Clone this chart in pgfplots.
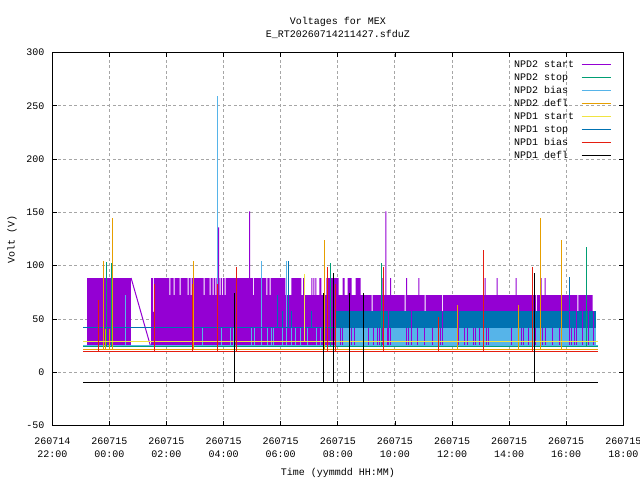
\documentclass[border=0pt]{standalone}
\usepackage{pgfplots}
\pgfplotsset{compat=1.18}
\usepackage{fontspec}
\setmainfont{Liberation Mono}
\definecolor{cPurple}{HTML}{9400D3}
\definecolor{cTeal}{HTML}{009E73}
\definecolor{cLBlue}{HTML}{56B4E9}
\definecolor{cOrange}{HTML}{E69F00}
\definecolor{cYellow}{HTML}{F0E442}
\definecolor{cDBlue}{HTML}{0072B2}
\definecolor{cRed}{HTML}{E51E10}
\newcommand{\gpfont}{\fontsize{10bp}{13bp}\selectfont}
\newcommand{\lsp}{\hspace*{7bp}}
\begin{document}
\begin{tikzpicture}
\useasboundingbox (0,0) rectangle (640bp,480bp);
\begin{axis}[
  at={(52.3bp,54.4bp)}, anchor=south west,
  scale only axis, width=571bp, height=373.2bp,
  xmin=-2, xmax=18, ymin=-50, ymax=300,
  xtick={-2,0,2,4,6,8,10,12,14,16,18},
  xticklabels={{260714\\22:00},{260715\\00:00},{260715\\02:00},{260715\\04:00},{260715\\06:00},{260715\\08:00},{260715\\10:00},{260715\\12:00},{260715\\14:00},{260715\\16:00},{260715\\18:00}},
  ytick={-50,0,50,100,150,200,250,300},
  yticklabels={-50,0,50,100,150,200,250,300},
  tick align=inside,
  major tick length=4.5bp,
  every tick/.style={black, line width=0.8bp},
  axis line style={line width=1bp},
  grid=major,
  major grid style={draw=gray!70, dash pattern=on 3bp off 2.5bp, line width=0.9bp},
  xticklabel style={font=\gpfont, align=center, anchor=center, yshift=-22.5bp},
  yticklabel style={font=\gpfont, xshift=-4.5bp},
  title={Voltages for MEX\\E\_RT20260714211427.sfduZ},
  title style={font=\gpfont, align=center, at={(axis description cs:0.5,1)}, anchor=south, yshift=4bp},
  xlabel={Time (yymmdd HH:MM)},
  xlabel style={font=\gpfont, at={(axis description cs:0.5,-0.127)}, anchor=center},
  ylabel={Volt (V)},
  ylabel style={font=\gpfont, at={(axis description cs:-0.0706,0.5)}, anchor=center},
  legend style={draw=none, fill=none, at={(axis description cs:0.8086,0.984)}, anchor=north west,
    inner sep=0pt, outer sep=0pt, row sep=0pt, font=\gpfont,
    nodes={inner xsep=0pt, inner ysep=1.5bp, text height=7.5bp, text depth=2.5bp}},
  legend plot pos=right,
  legend cell align=left,
  legend image code/.code={\draw[#1, line width=1bp] (0bp,0bp) -- (29bp,0bp);},
  unbounded coords=jump,
]
\addlegendimage{cPurple}\addlegendentry{NPD2 start\lsp}
\addlegendimage{cTeal}\addlegendentry{NPD2 stop\lsp}
\addlegendimage{cLBlue}\addlegendentry{NPD2 bias\lsp}
\addlegendimage{cOrange}\addlegendentry{NPD2 defl\lsp}
\addlegendimage{cYellow}\addlegendentry{NPD1 start\lsp}
\addlegendimage{cDBlue}\addlegendentry{NPD1 stop\lsp}
\addlegendimage{cRed}\addlegendentry{NPD1 bias\lsp}
\addlegendimage{black}\addlegendentry{NPD1 defl\lsp}

% NPD2 start (purple) blocks
\addplot[fill=cPurple, draw=none, forget plot] coordinates {(-0.782,25.7) (-0.782,88.4) (0.761,88.4) (0.761,25.7)} -- cycle;
\addplot[fill=cPurple, draw=none, forget plot] coordinates {
(1.463,25.7) (1.463,88.4)
(1.533,88.4) (1.533,56.7) (1.568,56.7) (1.568,88.4)
(2.105,88.4) (2.105,72.4) (2.140,72.4) (2.140,88.4)
(2.246,88.4) (2.246,72.4) (2.281,72.4) (2.281,88.4)
(2.456,88.4) (2.456,72.4) (2.491,72.4) (2.491,88.4)
(2.737,88.4) (2.737,72.4) (2.772,72.4) (2.772,88.4)
(2.842,88.4) (2.842,72.4) (2.877,72.4) (2.877,88.4)
(3.298,88.4) (3.298,72.4) (3.333,72.4) (3.333,88.4)
(3.509,88.4) (3.509,72.4) (3.544,72.4) (3.544,88.4)
(3.614,88.4) (3.614,72.4) (3.649,72.4) (3.649,88.4)
(3.709,88.4) (3.709,72.4) (3.744,72.4) (3.744,88.4)
(3.860,88.4) (3.860,72.4) (3.895,72.4) (3.895,88.4)
(3.944,88.4) (3.944,72.4) (3.979,72.4) (3.979,88.4)
(4.035,88.4) (4.035,72.4) (4.070,72.4) (4.070,88.4)
(5.032,88.4) (5.032,72.4) (5.067,72.4) (5.067,88.4)
(5.498,88.4) (5.498,72.4) (5.533,72.4) (5.533,88.4)
(5.614,88.4) (5.614,72.4) (5.649,72.4) (5.649,88.4)
(6.165,88.4) (6.165,72.4) (6.375,72.4) (6.375,88.4) (6.726,88.4) (6.726,72.4)
(7.358,72.4) (7.358,88.4) (7.428,88.4) (7.428,72.4)
(7.604,72.4) (7.604,88.4) (8.025,88.4) (8.025,72.4)
(8.165,72.4) (8.165,88.4) (8.235,88.4) (8.235,72.4)
(8.340,72.4) (8.340,88.4) (8.481,88.4) (8.481,72.4)
(8.621,72.4) (8.621,88.4) (8.796,88.4) (8.796,72.4)
(9.182,72.4) (9.182,57) (9.217,57) (9.217,72.4)
(10.340,72.4) (10.340,57) (10.375,57) (10.375,72.4)
(11.042,72.4) (11.042,57) (11.077,57) (11.077,72.4)
(11.649,72.4) (11.649,57) (11.684,57) (11.684,72.4)
(14.937,72.4) (14.937,57) (14.972,57) (14.972,72.4)
(16.393,72.4) (16.393,57) (16.428,57) (16.428,72.4)
(16.926,72.4) (16.926,25.7)} -- cycle;
\addplot[cPurple, line width=1bp, forget plot] coordinates {
(0.761,88.4) (1.428,25.7) (1.428,nan)
(6.807,72.4) (6.807,88.4) (6.807,nan)
(7.095,72.4) (7.095,88.4) (7.095,nan)
(7.165,72.4) (7.165,88.4) (7.165,nan)
(7.235,72.4) (7.235,88.4) (7.235,nan)
(9.579,72.4) (9.579,88.4) (9.579,nan)
(9.849,72.4) (9.849,88.4) (9.849,nan)
(10.41,72.4) (10.41,88.4) (10.41,nan)
(10.842,72.4) (10.842,88.4) (10.842,nan)
(13.158,72.4) (13.158,88.4) (13.158,nan)
(13.579,72.4) (13.579,88.4) (13.579,nan)
(14.246,72.4) (14.246,88.4) (14.246,nan)
(15.123,72.4) (15.123,88.4) (15.123,nan)
(15.263,72.4) (15.263,88.4) (15.263,nan)
(3.825,88.4) (3.825,135.8) (3.825,nan)
(4.912,88.4) (4.912,151) (4.912,nan)
(9.684,72.4) (9.684,151) (9.684,nan)};

% NPD2 bias (light blue) band and bars
\addplot[fill=cLBlue, draw=none, forget plot] coordinates {(7.919,25.4) (7.919,41.4) (17.042,41.4) (17.042,25.4)} -- cycle;
\addplot[cLBlue, line width=1bp, forget plot] coordinates {
(-0.912,25.4) (17.10,25.4) (17.10,nan)
(0.561,25.4) (0.561,72.4) (0.561,nan)
(3.263,25.4) (3.263,41.4) (3.263,nan)
(3.930,25.4) (3.930,41.4) (3.930,nan)
(4.246,25.4) (4.246,41.4) (4.246,nan)
(4.351,25.4) (4.351,41.4) (4.351,nan)
(4.972,25.4) (4.972,41.4) (4.972,nan)
(5.077,25.4) (5.077,41.4) (5.077,nan)
(5.533,25.4) (5.533,41.4) (5.533,nan)
(5.674,25.4) (5.674,41.4) (5.674,nan)
(5.744,25.4) (5.744,41.4) (5.744,nan)
(6.070,25.4) (6.070,41.4) (6.070,nan)
(6.375,25.4) (6.375,41.4) (6.375,nan)
(6.526,25.4) (6.526,41.4) (6.526,nan)
(6.691,25.4) (6.691,41.4) (6.691,nan)
(6.926,25.4) (6.926,41.4) (6.926,nan)
(7.242,25.4) (7.242,41.4) (7.242,nan)
(7.393,25.4) (7.393,41.4) (7.393,nan)
(3.789,25.4) (3.789,259) (3.789,nan)
(5.333,25.4) (5.333,104) (5.333,nan)
(6.211,25.4) (6.211,104) (6.211,nan)};

% NPD1 stop (dark blue) band and bars
\addplot[fill=cDBlue, draw=none, forget plot] coordinates {(7.919,41.4) (7.919,57.4) (17.042,57.4) (17.042,41.4)} -- cycle;
\addplot[cDBlue, line width=1bp, forget plot] coordinates {
(-0.912,42) (7.919,42) (7.919,nan)
(6.070,42) (6.070,57.4) (6.070,nan)
(6.375,42) (6.375,57.4) (6.375,nan)
(7.077,42) (7.077,57.4) (7.077,nan)
(5.895,42) (5.895,72.4) (5.895,nan)
(6.281,42) (6.281,104.7) (6.281,nan)
(16.105,57.4) (16.105,89) (16.105,nan)};

% purple showing through the bands
\addplot[cPurple, line width=1bp, forget plot] coordinates {
(8.095,25.7) (8.095,41.4) (8.095,nan)
(8.175,25.7) (8.175,41.4) (8.175,nan)
(8.481,25.7) (8.481,41.4) (8.481,nan)
(8.586,25.7) (8.586,41.4) (8.586,nan)
(9.067,25.7) (9.067,41.4) (9.067,nan)
(9.242,25.7) (9.242,41.4) (9.242,nan)
(9.382,25.7) (9.382,41.4) (9.382,nan)
(9.453,25.7) (9.453,41.4) (9.453,nan)
(9.579,25.7) (9.579,41.4) (9.579,nan)
(9.733,25.7) (9.733,41.4) (9.733,nan)
(9.849,25.7) (9.849,41.4) (9.849,nan)
(10.400,25.7) (10.400,41.4) (10.400,nan)
(10.470,25.7) (10.470,41.4) (10.470,nan)
(10.786,25.7) (10.786,41.4) (10.786,nan)
(11.042,25.7) (11.042,41.4) (11.042,nan)
(11.312,25.7) (11.312,41.4) (11.312,nan)
(11.604,25.7) (11.604,41.4) (11.604,nan)
(12.421,25.7) (12.421,41.4) (12.421,nan)
(12.540,25.7) (12.540,41.4) (12.540,nan)
(12.751,25.7) (12.751,41.4) (12.751,nan)
(12.807,25.7) (12.807,41.4) (12.807,nan)
(12.947,25.7) (12.947,41.4) (12.947,nan)
(13.207,25.7) (13.207,41.4) (13.207,nan)
(13.277,25.7) (13.277,41.4) (13.277,nan)
(14.084,25.7) (14.084,41.4) (14.084,nan)
(14.446,25.7) (14.446,41.4) (14.446,nan)
(14.491,25.7) (14.491,41.4) (14.491,nan)
(14.667,25.7) (14.667,41.4) (14.667,nan)
(14.937,25.7) (14.937,41.4) (14.937,nan)
(15.172,25.7) (15.172,41.4) (15.172,nan)
(15.263,25.7) (15.263,41.4) (15.263,nan)
(15.523,25.7) (15.523,41.4) (15.523,nan)
(15.754,25.7) (15.754,41.4) (15.754,nan)
(16.200,25.7) (16.200,41.4) (16.200,nan)
(16.281,25.7) (16.281,41.4) (16.281,nan)
(9.761,25.7) (9.761,57.4) (9.761,nan)
(10.586,25.7) (10.586,57.4) (10.586,nan)
(11.656,25.7) (11.656,57.4) (11.656,nan)
(12.235,25.7) (12.235,57.4) (12.235,nan)
(16.105,25.7) (16.105,57.4) (16.105,nan)
(16.375,25.7) (16.375,57.4) (16.375,nan)
(16.586,25.7) (16.586,57.4) (16.586,nan)
(16.796,25.7) (16.796,57.4) (16.796,nan)
(16.961,25.7) (16.961,57.4) (16.961,nan)};

% NPD2 stop (teal)
\addplot[cTeal, line width=1bp, forget plot] coordinates {
(-0.912,24.2) (17.10,24.2) (17.10,nan)
(-0.105,24.2) (-0.105,103) (-0.105,nan)
(0.070,24.2) (0.070,102.5) (0.070,nan)
(7.754,24.2) (7.754,102.5) (7.754,nan)
(9.544,24.2) (9.544,102.5) (9.544,nan)
(16.702,24.2) (16.702,117.6) (16.702,nan)};

% NPD2 defl (orange)
\addplot[cOrange, line width=1bp, forget plot] coordinates {
(-0.912,21.4) (17.10,21.4) (17.10,nan)
(-0.211,21.4) (-0.211,104) (-0.211,nan)
(-0.126,21.4) (-0.126,41) (-0.126,nan)
(0.000,21.4) (0.000,41) (0.000,nan)
(0.105,21.4) (0.105,145) (0.105,nan)
(2.947,21.4) (2.947,104) (2.947,nan)
(7.544,21.4) (7.544,124) (7.544,nan)
(12.189,21.4) (12.189,63) (12.189,nan)
(14.316,21.4) (14.316,63) (14.316,nan)
(15.088,21.4) (15.088,145) (15.088,nan)
(15.825,21.4) (15.825,124) (15.825,nan)};

% NPD1 start (yellow)
\addplot[cYellow, line width=1bp, forget plot] coordinates {
(-0.912,28.9) (17.10,28.9) (17.10,nan)
(6.842,28.9) (6.842,92) (6.842,nan)};

% NPD1 bias (red)
\addplot[cRed, line width=1bp, forget plot] coordinates {
(-0.912,19.5) (17.10,19.5) (17.10,nan)
(-0.386,19.5) (-0.386,68) (-0.386,nan)
(1.568,19.5) (1.568,83) (1.568,nan)
(2.912,19.5) (2.912,83) (2.912,nan)
(3.779,19.5) (3.779,83) (3.779,nan)
(4.456,19.5) (4.456,99) (4.456,nan)
(7.649,19.5) (7.649,99) (7.649,nan)
(7.919,19.5) (7.919,83) (7.919,nan)
(9.614,19.5) (9.614,99) (9.614,nan)
(11.544,19.5) (11.544,51.5) (11.544,nan)
(13.088,19.5) (13.088,115) (13.088,nan)
(13.110,19.5) (13.110,115) (13.110,nan)
(14.807,19.5) (14.807,99) (14.807,nan)};

% NPD1 defl (black)
\addplot[black, line width=1bp, forget plot] coordinates {
(-0.912,-10) (17.10,-10) (17.10,nan)
(4.386,-10) (4.386,74) (4.386,nan)
(7.509,-10) (7.509,74) (7.509,nan)
(7.860,-10) (7.860,93) (7.860,nan)
(8.421,-10) (8.421,74) (8.421,nan)
(8.912,-10) (8.912,74) (8.912,nan)
(14.877,-10) (14.877,93) (14.877,nan)};
\end{axis}
\end{tikzpicture}
\end{document}
